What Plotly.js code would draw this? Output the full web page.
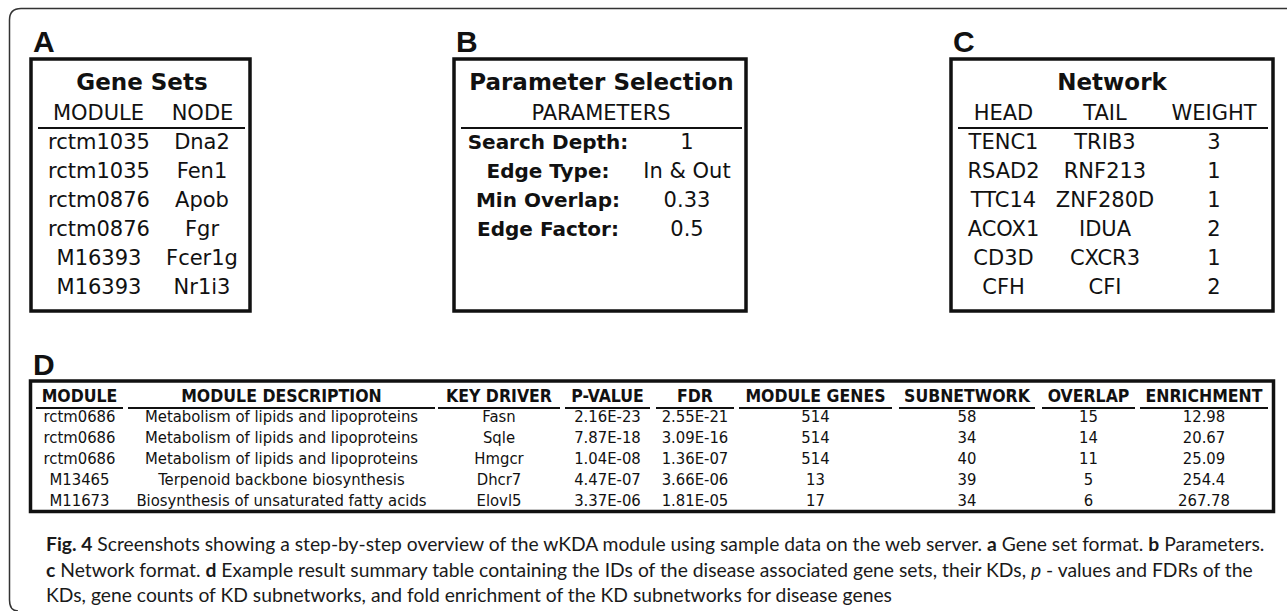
<!DOCTYPE html>
<html>
<head>
<meta charset="utf-8">
<script src="https://cdn.plot.ly/plotly-3.0.1.min.js"></script>
<style>html,body{margin:0;padding:0;background:#fff;}#chart{width:1287px;height:611px;}</style>
</head>
<body>
<div id="chart"></div>
<script>
// ---------- DATA ----------
// Panel A : Gene Sets
const geneSetHeaders = ["MODULE", "NODE"];
const geneModules = ["rctm1035", "rctm1035", "rctm0876", "rctm0876", "M16393", "M16393"];
const geneNodes = ["Dna2", "Fen1", "Apob", "Fgr", "Fcer1g", "Nr1i3"];

// Panel B : Parameter Selection
const paramHeader = "PARAMETERS";
const paramNames = ["Search Depth:", "Edge Type:", "Min Overlap:", "Edge Factor:"];
const paramValues = ["1", "In & Out", "0.33", "0.5"];

// Panel C : Network
const networkHeaders = ["HEAD", "TAIL", "WEIGHT"];
const netHead = ["TENC1", "RSAD2", "TTC14", "ACOX1", "CD3D", "CFH"];
const netTail = ["TRIB3", "RNF213", "ZNF280D", "IDUA", "CXCR3", "CFI"];
const netWeight = ["3", "1", "1", "2", "1", "2"];

// Panel D : wKDA result
const kdHeaders = ["MODULE", "MODULE DESCRIPTION", "KEY DRIVER", "P-VALUE", "FDR",
                   "MODULE GENES", "SUBNETWORK", "OVERLAP", "ENRICHMENT"];
const kdModule = ["rctm0686", "rctm0686", "rctm0686", "M13465", "M11673"];
const kdDescription = ["Metabolism of lipids and lipoproteins", "Metabolism of lipids and lipoproteins",
                       "Metabolism of lipids and lipoproteins", "Terpenoid backbone biosynthesis",
                       "Biosynthesis of unsaturated fatty acids"];
const kdDriver = ["Fasn", "Sqle", "Hmgcr", "Dhcr7", "Elovl5"];
const kdPValue = ["2.16E-23", "7.87E-18", "1.04E-08", "4.47E-07", "3.37E-06"];
const kdFDR = ["2.55E-21", "3.09E-16", "1.36E-07", "3.66E-06", "1.81E-05"];
const kdModuleGenes = [514, 514, 514, 13, 17];
const kdSubnetwork = [58, 34, 40, 39, 34];
const kdOverlap = [15, 14, 11, 5, 6];
const kdEnrichment = ["12.98", "20.67", "25.09", "254.4", "267.78"];

const panelLabels = ["A", "B", "C", "D"];
const panelTitles = ["Gene Sets", "Parameter Selection", "Network"];

const captionLines = [
  "<b>Fig. 4</b> Screenshots showing a step-by-step overview of the wKDA module using sample data on the web server. <b>a</b> Gene set format. <b>b</b> Parameters.",
  "<b>c</b> Network format. <b>d</b> Example result summary table containing the IDs of the disease associated gene sets, their KDs, <i>p</i> - values and FDRs of the",
  "KDs, gene counts of KD subnetworks, and fold enrichment of the KD subnetworks for disease genes"
];

// ---------- LAYOUT GEOMETRY ----------
const W = 1287, H = 611;
const INK = "#111111";
const FONT = "DejaVu Sans, Verdana, sans-serif";
const FONT_D = "DejaVu Sans Condensed, DejaVu Sans, sans-serif";
const FONT_CAP = "Lato, Liberation Sans, sans-serif";

const rowY = [144, 173, 202, 231, 260, 289];   // panels A-C rows
const headY = 115, titleY = 84;
const dHeadY = 398, dRowY = [417.5, 439, 460, 481, 502];
const dColX = [79.5, 281.5, 499, 607.5, 695, 815.5, 967, 1088.5, 1204];
const dUnder = [[36,123],[128,435],[438,560],[565,650],[656,734],[739,892],[899,1035],[1042,1135],[1140,1268]];

const traces = [];
function col(xc, ys, texts, size, bold, family) {
  traces.push({
    type: "scatter", mode: "text", hoverinfo: "skip", showlegend: false,
    x: ys.map(() => xc), y: ys, text: texts.map(String),
    textposition: "middle center",
    textfont: {family: family || FONT, size: size, color: INK, weight: bold ? "bold" : "normal"}
  });
}

// Panel A
col(142, [titleY], [panelTitles[0]], 23, true);
col(98.5, [headY], [geneSetHeaders[0]], 21, false);
col(202.5, [headY], [geneSetHeaders[1]], 21, false);
col(99, rowY.slice(0, geneModules.length), geneModules, 21, false);
col(202, rowY.slice(0, geneNodes.length), geneNodes, 21, false);

// Panel B
col(601.5, [titleY], [panelTitles[1]], 23, true);
col(601, [headY], [paramHeader], 21, false);
col(548, rowY.slice(0, paramNames.length), paramNames, 20, true);
col(687, rowY.slice(0, paramValues.length), paramValues, 21, false);

// Panel C
col(1112, [titleY], [panelTitles[2]], 23, true);
const cX = [1003.5, 1105, 1214];
networkHeaders.forEach((h, i) => col(cX[i], [headY], [h], 21, false));
col(cX[0], rowY.slice(0, netHead.length), netHead, 21, false);
col(cX[1], rowY.slice(0, netTail.length), netTail, 21, false);
col(cX[2], rowY.slice(0, netWeight.length), netWeight, 21, false);

// Panel D
kdHeaders.forEach((h, i) => col(dColX[i], [dHeadY], [h], 17.5, true, FONT_D));
[kdModule, kdDescription, kdDriver, kdPValue, kdFDR, kdModuleGenes, kdSubnetwork, kdOverlap, kdEnrichment]
  .forEach((arr, i) => col(dColX[i], dRowY.slice(0, arr.length), arr, 16.5, false, FONT_D));

// ---------- SHAPES ----------
const shapes = [];
// outer frame (left bracket)
shapes.push({type: "path", xref: "x", yref: "y",
  path: "M 1287,8.5 L 21,8.5 Q 9.5,8.5 9.5,20 L 9.5,600 Q 9.5,611 18,611",
  line: {color: "#333333", width: 1.5}});
const boxes = [[31, 59, 250, 311], [454, 59, 746, 311], [951, 59, 1273, 311], [30.5, 381, 1273.5, 511.5]];
boxes.forEach(b => shapes.push({type: "rect", xref: "x", yref: "y", x0: b[0], y0: b[1], x1: b[2], y1: b[3],
  line: {color: "#111111", width: 3.5}, fillcolor: "rgba(0,0,0,0)"}));
const rules = [[38, 245], [461, 742], [958, 1268]];
rules.forEach(r => shapes.push({type: "line", xref: "x", yref: "y", x0: r[0], x1: r[1], y0: 128, y1: 128,
  line: {color: "#111111", width: 2}}));
dUnder.forEach(r => shapes.push({type: "line", xref: "x", yref: "y", x0: r[0], x1: r[1], y0: 408, y1: 408,
  line: {color: "#111111", width: 2}}));

// ---------- ANNOTATIONS ----------
const annotations = [];
const labelPos = [[31, 41], [454, 41], [951, 41], [31, 364]];
panelLabels.forEach((t, i) => annotations.push({
  xref: "x", yref: "y", x: labelPos[i][0], y: labelPos[i][1], xanchor: "left", yanchor: "middle",
  text: "<b>" + t + "</b>", showarrow: false,
  font: {family: "Liberation Sans, Arial, sans-serif", size: 30, color: INK}
}));
const capY = [543, 569, 594];
captionLines.forEach((t, i) => annotations.push({
  xref: "x", yref: "y", x: 44, y: capY[i], xanchor: "left", yanchor: "middle",
  text: t, showarrow: false, align: "left",
  font: {family: FONT_CAP, size: 19.3, color: "#1a1a1a"}
}));

const layout = {
  width: W, height: H,
  margin: {l: 0, r: 0, t: 0, b: 0, pad: 0},
  paper_bgcolor: "#ffffff", plot_bgcolor: "#ffffff",
  showlegend: false, hovermode: false,
  xaxis: {range: [0, W], visible: false, fixedrange: true},
  yaxis: {range: [H, 0], visible: false, fixedrange: true},
  shapes: shapes, annotations: annotations
};

Plotly.newPlot("chart", traces, layout, {staticPlot: true, displayModeBar: false});
</script>
</body>
</html>
